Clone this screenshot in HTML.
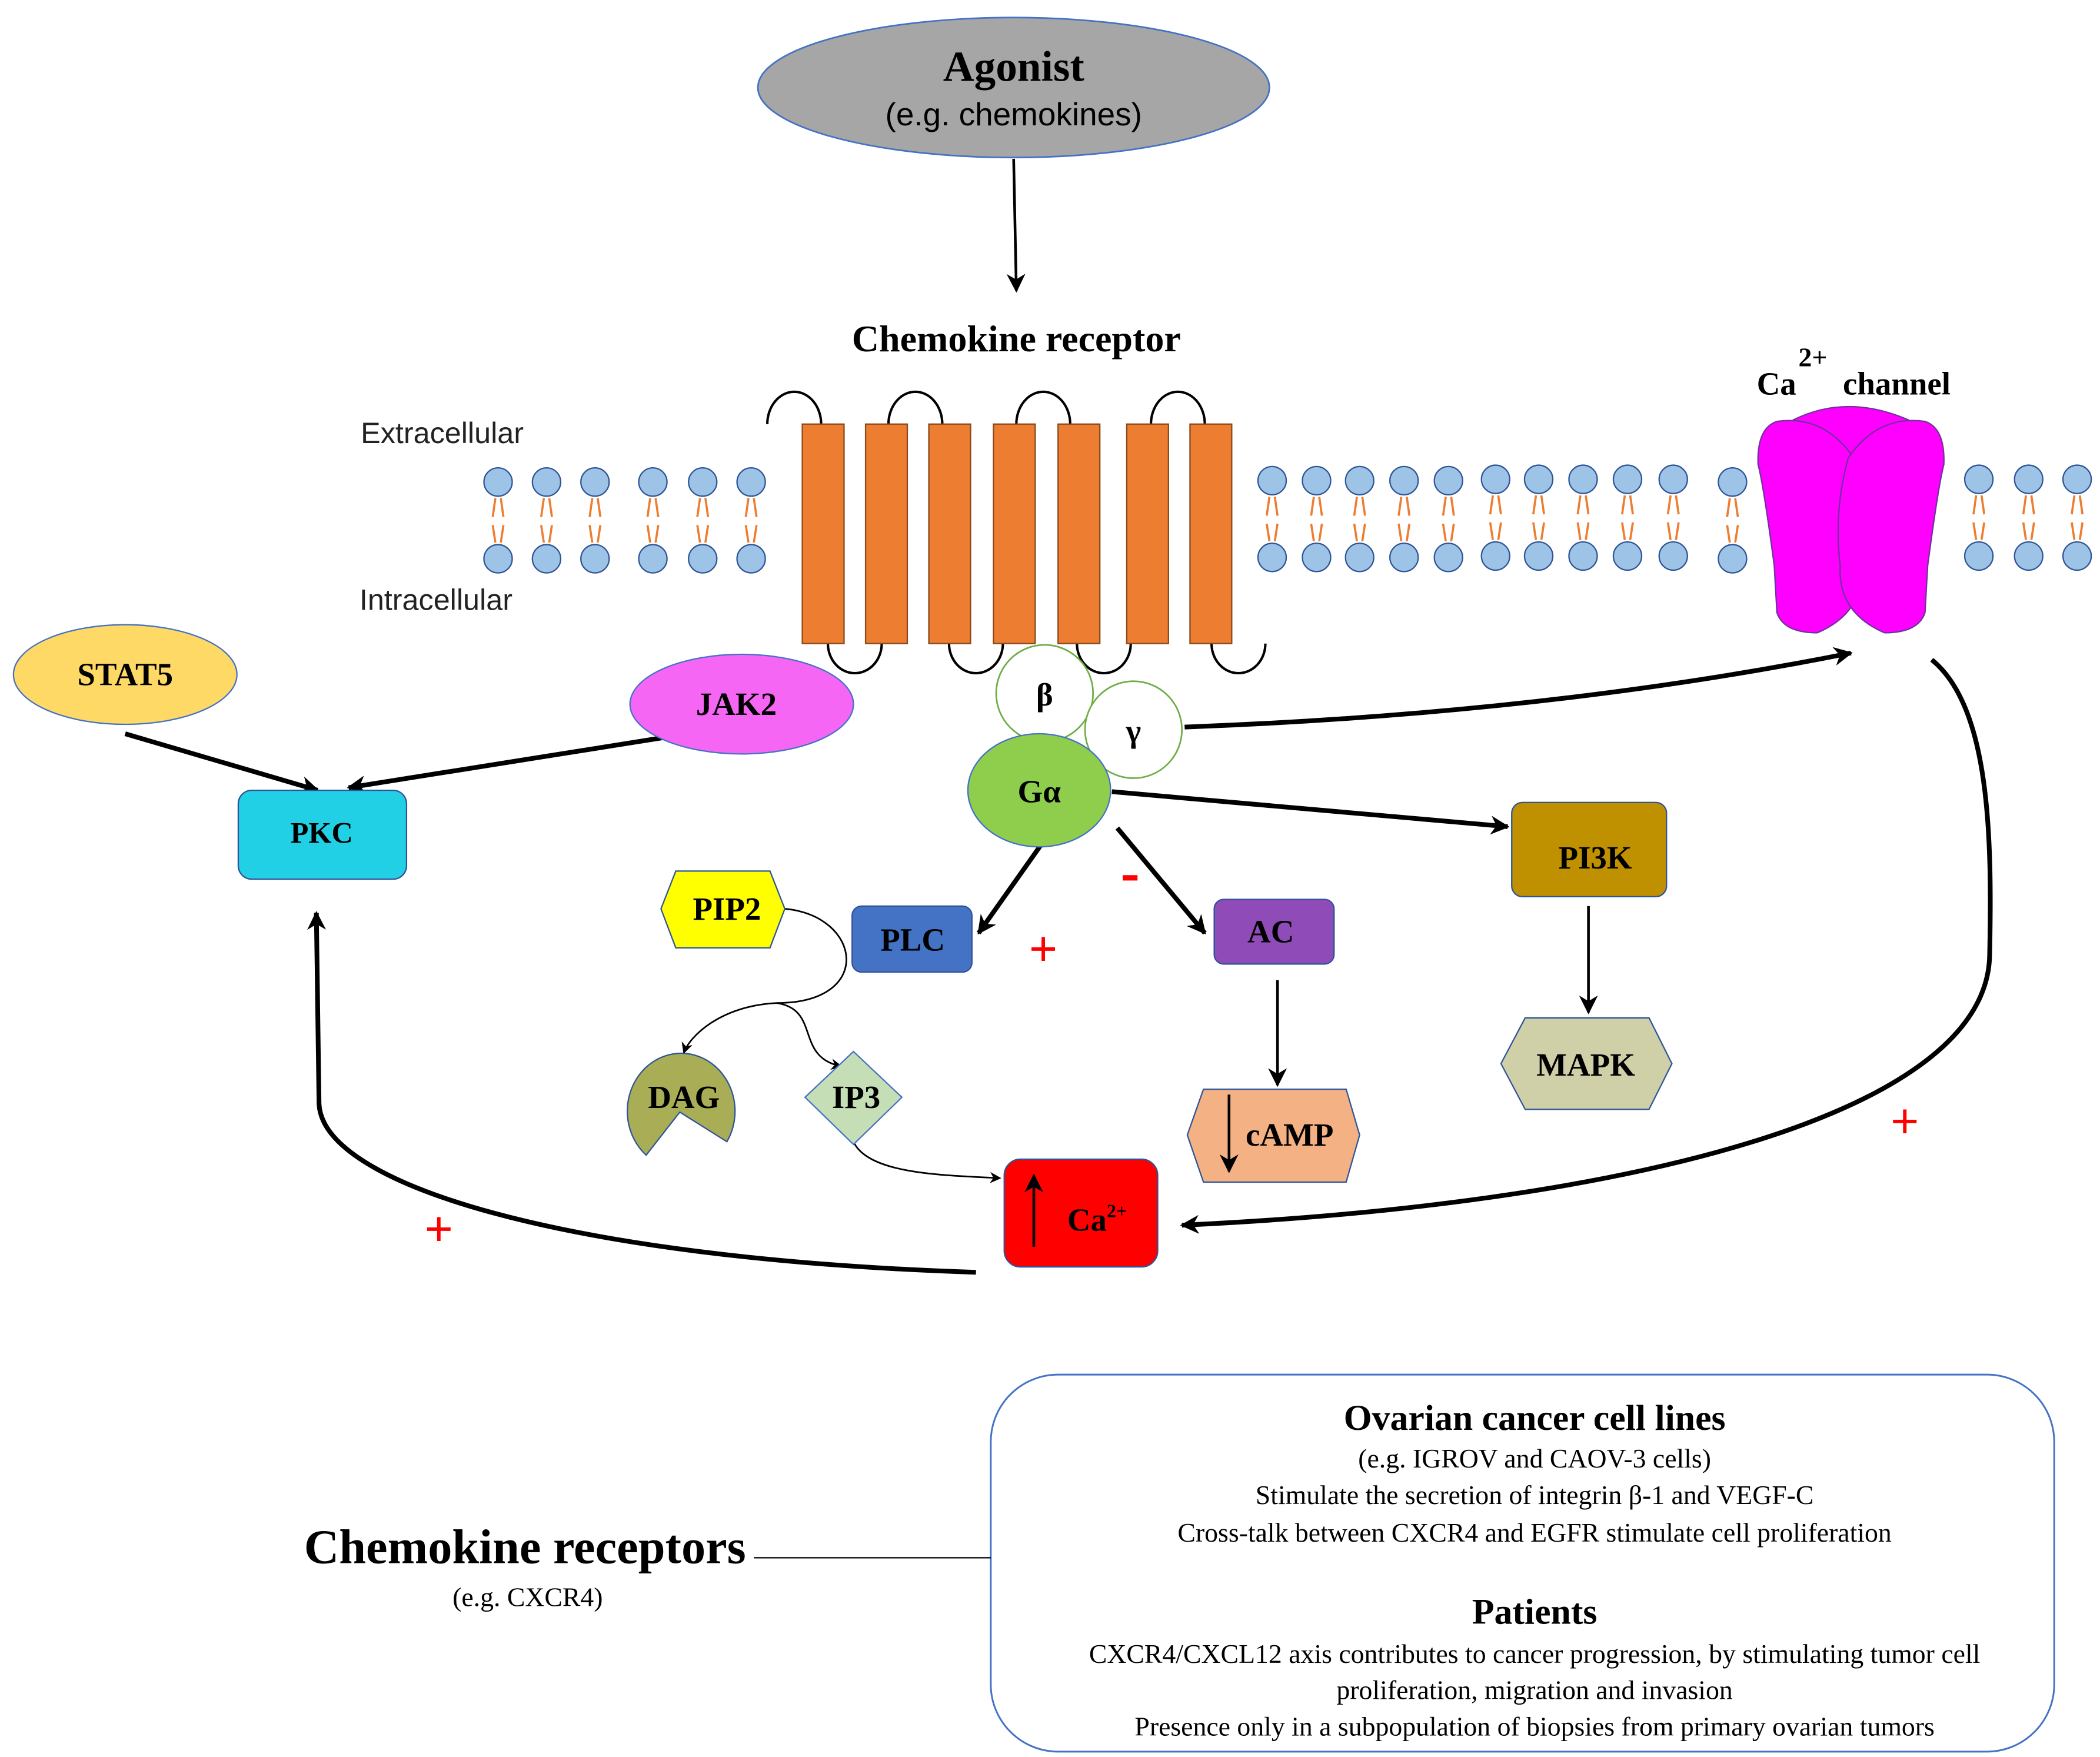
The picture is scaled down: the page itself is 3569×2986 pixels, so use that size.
<!DOCTYPE html>
<html><head><meta charset="utf-8"><style>html,body{margin:0;padding:0;background:#fff}svg{display:block}</style></head>
<body>
<svg width="3569" height="2986" viewBox="0 0 1560 1305" preserveAspectRatio="none" xmlns="http://www.w3.org/2000/svg">
<defs>
<marker id="ah" viewBox="0 0 10 10" refX="9" refY="5" markerWidth="4" markerHeight="4" orient="auto" markerUnits="strokeWidth"><path d="M0,0 L10,5 L0,10 L3,5z" fill="#000"/></marker>
<marker id="ahs" viewBox="0 0 10 10" refX="9" refY="5" markerWidth="7" markerHeight="7" orient="auto" markerUnits="strokeWidth"><path d="M0,0 L10,5 L0,10 L3,5z" fill="#000"/></marker>
<g id="lip"><circle cx="0" cy="0" r="10.5" fill="#9dc3e6" stroke="#2f5597" stroke-width="1"/><circle cx="0" cy="57" r="10.5" fill="#9dc3e6" stroke="#2f5597" stroke-width="1"/><path d="M-2,12 L-4,26 M2,12 L4,26 M-4,32 L-2,45 M4,32 L2,45" stroke="#ed7d31" stroke-width="1.6"/></g>
</defs>
<g font-family="Liberation Serif, serif" font-weight="bold" text-anchor="middle">
<ellipse cx="753" cy="65" rx="190" ry="52" fill="#a6a6a6" stroke="#4472c4" stroke-width="1.2"/>
<text x="753" y="60" font-size="32">Agonist</text>
<text x="753" y="93" font-size="24" font-weight="normal" font-family="Liberation Sans, sans-serif">(e.g. chemokines)</text>
<line x1="753" y1="118" x2="755" y2="216" stroke="#000" stroke-width="2" marker-end="url(#ahs)"/>
<text x="755" y="261" font-size="28">Chemokine receptor</text>
</g>
<g font-family="Liberation Sans, sans-serif" font-size="22" fill="#222">
<text x="268" y="329">Extracellular</text>
<text x="267" y="453">Intracellular</text>
</g>
<g>
<use href="#lip" x="370" y="358"/><use href="#lip" x="406" y="358"/><use href="#lip" x="442" y="358"/><use href="#lip" x="485" y="358"/><use href="#lip" x="522" y="358"/><use href="#lip" x="558" y="358"/>
<use href="#lip" x="945" y="357"/><use href="#lip" x="978" y="357"/><use href="#lip" x="1010" y="357"/><use href="#lip" x="1043" y="357"/><use href="#lip" x="1076" y="357"/><use href="#lip" x="1111" y="356"/><use href="#lip" x="1143" y="356"/><use href="#lip" x="1176" y="356"/><use href="#lip" x="1209" y="356"/><use href="#lip" x="1243" y="356"/><use href="#lip" x="1287" y="358"/>
<use href="#lip" x="1470" y="356"/><use href="#lip" x="1507" y="356"/><use href="#lip" x="1543" y="356"/>
</g>
<g fill="none" stroke="#000" stroke-width="1.8">
<path d="M570,315 A20,24 0 0 1 610,315"/><path d="M660,315 A20,24 0 0 1 700,315"/><path d="M755,315 A20,24 0 0 1 795,315"/><path d="M855,315 A20,24 0 0 1 895,315"/>
<path d="M615,478 A20,22 0 0 0 655,478"/><path d="M705,478 A20,22 0 0 0 745,478"/><path d="M800,478 A20,22 0 0 0 840,478"/><path d="M900,478 A20,22 0 0 0 940,478"/>
</g>
<g fill="#ed7d31" stroke="#8a4a1a" stroke-width="1">
<rect x="596" y="315" width="31" height="163"/><rect x="643" y="315" width="31" height="163"/><rect x="690" y="315" width="31" height="163"/><rect x="738" y="315" width="31" height="163"/><rect x="786" y="315" width="31" height="163"/><rect x="837" y="315" width="31" height="163"/><rect x="884" y="315" width="31" height="163"/>
</g>
<g fill="#ff00ff" stroke="#7030a0" stroke-width="1">
<path d="M1332,312 Q1372,292 1418,312 L1420,460 Q1395,440 1375,440 Q1355,440 1330,460 Z"/>
<path d="M1320,313 Q1355,308 1377,340 Q1388,380 1383,420 Q1385,455 1350,470 Q1325,470 1320,455 L1318,420 Q1310,360 1306,345 Q1305,318 1320,313Z"/>
<path d="M1430,313 Q1395,308 1373,340 Q1362,380 1367,420 Q1365,455 1400,470 Q1425,470 1430,455 L1432,420 Q1440,360 1444,345 Q1445,318 1430,313Z"/>
</g>
<g font-family="Liberation Serif, serif" font-weight="bold" font-size="24">
<text x="1305" y="293">Ca</text><text x="1336" y="272" font-size="20">2+</text><text x="1369" y="293">channel</text>
</g>
<g stroke="#000" stroke-width="3.5" fill="none">
<line x1="93" y1="545" x2="236" y2="587" marker-end="url(#ah)"/>
<line x1="492" y1="548" x2="259" y2="585" marker-end="url(#ah)"/>
<path d="M880,540 Q1150,530 1375,485" marker-end="url(#ah)"/>
<line x1="826" y1="588" x2="1120" y2="614" marker-end="url(#ah)"/>
<line x1="773" y1="628" x2="727" y2="693" marker-end="url(#ah)"/>
<line x1="830" y1="615" x2="895" y2="693" marker-end="url(#ah)"/>
<path d="M725,945 C420,935 240,880 237,820 L235,678" marker-end="url(#ah)"/>
<path d="M1435,490 C1478,525 1480,620 1478,710 C1475,830 1200,895 878,910" marker-end="url(#ah)"/>
</g>
<g stroke="#000" stroke-width="2" fill="none">
<line x1="1180" y1="673" x2="1180" y2="752" marker-end="url(#ahs)"/>
<line x1="949" y1="728" x2="949" y2="806" marker-end="url(#ahs)"/>
</g>
<g stroke="#000" stroke-width="1.2" fill="none">
<path d="M583,675 C640,680 650,745 577,745 C535,747 512,770 508,782" marker-end="url(#ahs)"/>
<path d="M577,745 C610,750 590,785 625,792" marker-end="url(#ahs)"/>
<path d="M634,848 C645,872 700,873 743,875" marker-end="url(#ahs)"/>
</g>
<g font-family="Liberation Serif, serif" font-weight="bold" text-anchor="middle" font-size="24">
<ellipse cx="93" cy="501" rx="83" ry="37" fill="#ffd966" stroke="#4472c4" stroke-width="1"/><text x="93" y="509">STAT5</text>
<ellipse cx="551" cy="523" rx="83" ry="37" fill="#f566f5" stroke="#4472c4" stroke-width="1"/><text x="547" y="531">JAK2</text>
<rect x="177" y="587" width="125" height="66" rx="10" fill="#22d0e5" stroke="#2f5597" stroke-width="1"/><text x="239" y="626" font-size="22">PKC</text>
<circle cx="776" cy="515" r="36" fill="#fff" stroke="#70ad47" stroke-width="1.2"/><text x="776" y="524">β</text>
<circle cx="842" cy="542" r="36" fill="#fff" stroke="#70ad47" stroke-width="1.2"/><text x="842" y="551">γ</text>
<ellipse cx="772" cy="587" rx="53" ry="42" fill="#8fce4d" stroke="#4472c4" stroke-width="1"/><text x="772" y="596">Gα</text>
<rect x="1123" y="596" width="115" height="70" rx="8" fill="#bf9000" stroke="#2f5597" stroke-width="1"/><text x="1185" y="645">PI3K</text>
<polygon points="1115,790 1133,756 1225,756 1242,790 1225,824 1133,824" fill="#cfcfa8" stroke="#2f5597" stroke-width="1"/><text x="1178" y="799">MAPK</text>
<rect x="633" y="673" width="89" height="49" rx="7" fill="#4472c4" stroke="#2f5597" stroke-width="1"/><text x="678" y="706">PLC</text>
<rect x="902" y="668" width="89" height="48" rx="7" fill="#8f4bb8" stroke="#2f5597" stroke-width="1"/><text x="944" y="700">AC</text>
<polygon points="491,675 502,647 572,647 583,675 572,704 502,704" fill="#ffff00" stroke="#2f5597" stroke-width="1"/><text x="540" y="683">PIP2</text>
<path d="M505,826 L540,848 A40,43 0 1 0 480,858 Z" fill="#a9ae56" stroke="#2f5597" stroke-width="1"/><text x="508" y="823">DAG</text>
<polygon points="634,781 670,815 634,850 598,815" fill="#c5deb5" stroke="#4472c4" stroke-width="1"/><text x="636" y="823">IP3</text>
<polygon points="882,843 894,809 1000,809 1010,843 1000,878 894,878" fill="#f4b183" stroke="#2f5597" stroke-width="1"/><text x="958" y="851">cAMP</text>
<line x1="913" y1="813" x2="913" y2="870" stroke="#000" stroke-width="2" marker-end="url(#ahs)"/>
<rect x="746" y="861" width="114" height="80" rx="12" fill="#ff0000" stroke="#2f5597" stroke-width="1"/>
<text x="815" y="914">Ca<tspan font-size="14" dy="-10">2+</tspan></text>
<line x1="768" y1="926" x2="768" y2="873" stroke="#000" stroke-width="2" marker-end="url(#ahs)"/>
</g>
<g font-family="Liberation Sans, sans-serif" fill="#ff0000" font-size="36" text-anchor="middle">
<text x="775" y="717">+</text><text x="326" y="925">+</text><text x="1415" y="845">+</text>
<rect x="834" y="650" width="11" height="4" fill="#ff0000"/>
</g>
<rect x="736" y="1021" width="790" height="280" rx="50" fill="none" stroke="#4472c4" stroke-width="1.3"/>
<line x1="560" y1="1157" x2="736" y2="1157" stroke="#000" stroke-width="1"/>
<g font-family="Liberation Serif, serif" text-anchor="middle">
<text x="390" y="1161" font-size="36" font-weight="bold">Chemokine receptors</text>
<text x="392" y="1193" font-size="20">(e.g. CXCR4)</text>
<text x="1140" y="1062" font-size="27" font-weight="bold">Ovarian cancer cell lines</text>
<text x="1140" y="1090" font-size="20">(e.g. IGROV and CAOV-3 cells)</text>
<text x="1140" y="1117" font-size="20">Stimulate the secretion of integrin β-1 and VEGF-C</text>
<text x="1140" y="1145" font-size="20">Cross-talk between CXCR4 and EGFR stimulate cell proliferation</text>
<text x="1140" y="1206" font-size="27" font-weight="bold">Patients</text>
<text x="1140" y="1235" font-size="20">CXCR4/CXCL12 axis contributes to cancer progression, by stimulating tumor cell</text>
<text x="1140" y="1262" font-size="20">proliferation, migration and invasion</text>
<text x="1140" y="1289" font-size="20">Presence only in a subpopulation of biopsies from primary ovarian tumors</text>
</g>
</svg>
</body></html>
